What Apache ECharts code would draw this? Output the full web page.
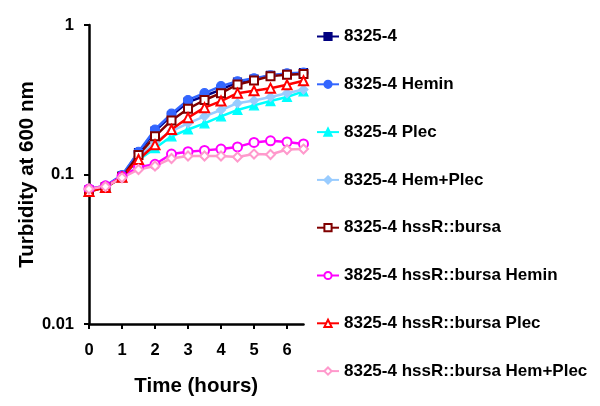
<!DOCTYPE html>
<html>
<head>
<meta charset="utf-8">
<script src="https://cdn.jsdelivr.net/npm/echarts@6/dist/echarts.min.js"></script>
<style>
  html, body { margin: 0; padding: 0; background: #fff; }
  #chart { width: 600px; height: 406px; }
</style>
</head>
<body>
<div id="chart"></div>
<script>
// time points (hours)
var hours = [0, 0.5, 1, 1.5, 2, 2.5, 3, 3.5, 4, 4.5, 5, 5.5, 6, 6.5];

// turbidity at 600 nm
var wt        = [0.079, 0.083, 0.098, 0.140, 0.195, 0.248, 0.305, 0.335, 0.370, 0.415, 0.435, 0.460, 0.470, 0.480];
var wtHemin   = [0.080, 0.084, 0.099, 0.142, 0.200, 0.255, 0.315, 0.350, 0.390, 0.420, 0.440, 0.460, 0.475, 0.480];
var wtPlec    = [0.078, 0.082, 0.096, 0.125, 0.150, 0.180, 0.200, 0.220, 0.245, 0.270, 0.290, 0.310, 0.330, 0.360];
var wtHemPlec = [0.080, 0.083, 0.097, 0.130, 0.165, 0.195, 0.220, 0.245, 0.270, 0.300, 0.313, 0.330, 0.350, 0.370];
var mut        = [0.077, 0.082, 0.096, 0.135, 0.180, 0.230, 0.275, 0.315, 0.350, 0.400, 0.425, 0.455, 0.465, 0.470];
var mutHemin   = [0.080, 0.084, 0.097, 0.112, 0.117, 0.137, 0.142, 0.145, 0.148, 0.153, 0.164, 0.168, 0.165, 0.160];
var mutPlec    = [0.077, 0.082, 0.096, 0.126, 0.158, 0.200, 0.240, 0.280, 0.310, 0.350, 0.363, 0.378, 0.398, 0.424];
var mutHemPlec = [0.080, 0.083, 0.095, 0.108, 0.114, 0.128, 0.133, 0.133, 0.133, 0.131, 0.137, 0.136, 0.147, 0.148];

var xTicks = [0, 1, 2, 3, 4, 5, 6];

var font = 'Liberation Sans, Arial, sans-serif';

function pairs(vals) {
  return hours.map(function (h, i) { return [h, vals[i]]; });
}

function line(name, vals, color, symbol, size) {
  return {
    name: name,
    type: 'line',
    data: pairs(vals),
    symbol: symbol,
    symbolSize: size,
    showAllSymbol: true,
    lineStyle: { color: color, width: 2.5 },
    itemStyle: { color: color, borderColor: color, borderWidth: 1.2 },
    emphasis: { disabled: true },
    animation: false
  };
}

var chart = echarts.init(document.getElementById('chart'));

var option = {
  backgroundColor: '#fff',
  animation: false,
  grid: { left: 89, top: 25, width: 214.5, height: 299, outerBoundsMode: 'none' },
  legend: {
    orient: 'vertical',
    left: 316,
    top: 28,
    padding: 0,
    itemWidth: 22,
    itemHeight: 9,
    itemGap: 30.8,
    textStyle: { fontFamily: font, fontWeight: 'bold', fontSize: 17, color: '#000' }
  },
  xAxis: {
    type: 'value',
    min: 0,
    max: 6.5,
    interval: 1,
    name: 'Time (hours)',
    nameLocation: 'middle',
    nameGap: 52,
    nameTextStyle: { fontFamily: font, fontWeight: 'bold', fontSize: 20.5, color: '#000' },
    axisLine: { lineStyle: { color: '#000', width: 2.5 } },
    axisTick: {
      show: true, length: 5,
      lineStyle: { color: '#000', width: 2 },
      customValues: xTicks
    },
    axisLabel: {
      fontFamily: font, fontWeight: 'bold', fontSize: 16.5, color: '#000', margin: 18,
      customValues: xTicks
    },
    splitLine: { show: false }
  },
  yAxis: {
    type: 'log',
    logBase: 10,
    min: 0.01,
    max: 1,
    name: 'Turbidity at 600 nm',
    nameLocation: 'middle',
    nameGap: 48,
    nameTextStyle: { fontFamily: font, fontWeight: 'bold', fontSize: 20.5, color: '#000' },
    axisLine: { lineStyle: { color: '#000', width: 2.5 } },
    axisTick: { show: true, length: 5, lineStyle: { color: '#000', width: 2 } },
    minorTick: { show: false },
    axisLabel: {
      fontFamily: font, fontWeight: 'bold', fontSize: 16.5, color: '#000', margin: 15,
      formatter: function (v) { return String(+v.toPrecision(2)); }
    },
    splitLine: { show: false }
  },
  series: [
    line('8325-4', wt, '#000080', 'rect', 8),
    line('8325-4 Hemin', wtHemin, '#3366ff', 'circle', 9),
    line('8325-4 Plec', wtPlec, '#00ffff', 'triangle', 9),
    line('8325-4 Hem+Plec', wtHemPlec, '#99ccff', 'diamond', 9),
    line('8325-4 hssR::bursa', mut, '#800000', 'emptyRect', 8),
    line('3825-4 hssR::bursa Hemin', mutHemin, '#ff00ff', 'emptyCircle', 9),
    line('8325-4 hssR::bursa Plec', mutPlec, '#ff0000', 'emptyTriangle', 9),
    line('8325-4 hssR::bursa Hem+Plec', mutHemPlec, '#ff99cc', 'emptyDiamond', 9)
  ]
};

chart.setOption(option);
</script>
</body>
</html>
